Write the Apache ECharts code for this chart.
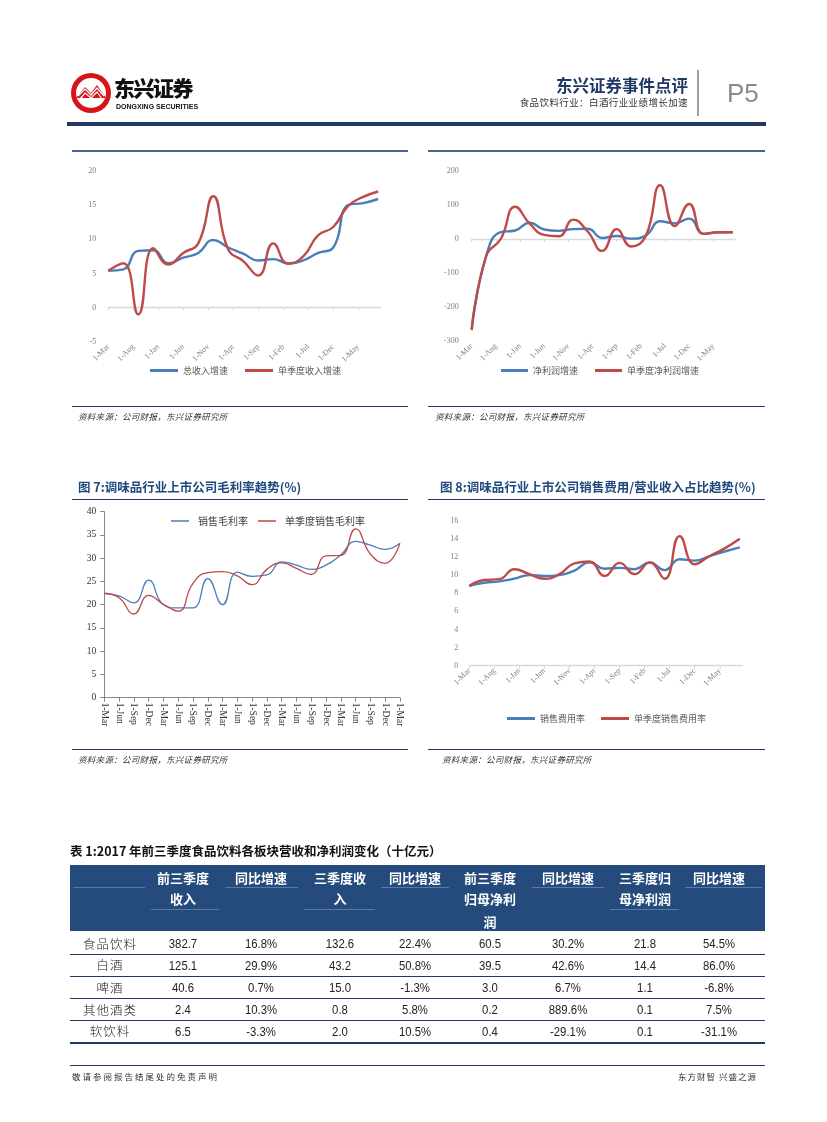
<!DOCTYPE html>
<html><head><meta charset="utf-8">
<script src="https://cdn.jsdelivr.net/npm/echarts@6/dist/echarts.min.js"></script>
<style>
html,body{margin:0;padding:0;background:#fff;}
#page{position:relative;width:827px;height:1122px;overflow:hidden;font-family:"Noto Sans CJK SC","Noto Sans",sans-serif;}
#chart{position:absolute;left:0;top:0;width:827px;height:1122px;}
.t{position:absolute;white-space:nowrap;line-height:1;}
.hl{position:absolute;}
.src{font-size:8.5px;font-style:italic;color:#333;letter-spacing:0.3px;}
.ftitle{font-size:12.5px;font-weight:bold;color:#1F497D;}
</style></head><body>
<div id="page">
<div id="chart"></div>

<!-- header -->
<svg class="hl" style="left:69px;top:71px" width="44" height="44" viewBox="0 0 44 44">
  <circle cx="22" cy="22" r="20" fill="#D7141A"/>
  <circle cx="22" cy="22" r="15" fill="#fff"/>
  <path d="M7 27 L16 16 L22 22 L28 14 L37 27 Z" fill="#D7141A"/>
  <path d="M9 25 L16 18 L22 24 L28 17 L35 25" stroke="#fff" stroke-width="1.2" fill="none"/>
  <path d="M11 28 L16 22 L22 27 L28 21 L33 28" stroke="#fff" stroke-width="1.2" fill="none"/>
</svg>
<div class="t" style="left:114px;top:77px;font-size:21px;font-weight:900;letter-spacing:-1.5px;color:#111;">东兴证券</div>
<div class="t" style="left:116px;top:103px;font-size:7px;font-weight:bold;font-family:'Liberation Sans Narrow','Liberation Sans',sans-serif;color:#111;">DONGXING SECURITIES</div>
<div class="t" style="right:139px;top:77px;font-size:16.5px;font-weight:bold;color:#1F3864;">东兴证券事件点评</div>
<div class="t" style="right:139px;top:98px;font-size:9.5px;color:#333;letter-spacing:0.4px;">食品饮料行业：白酒行业业绩增长加速</div>
<div class="hl" style="left:697px;top:70px;width:1.5px;height:46px;background:#a0a0a0;"></div>
<div class="t" style="left:727px;top:80px;font-size:26px;color:#8a8a8a;font-family:'Liberation Sans Narrow','Liberation Sans',sans-serif;">P5</div>
<div class="hl" style="left:67px;top:122px;width:699px;height:4px;background:#1F3864;"></div>

<!-- top charts frame -->
<div class="hl" style="left:72px;top:149.5px;width:336px;height:2px;background:#44658f;"></div>
<div class="hl" style="left:428px;top:149.5px;width:337px;height:2px;background:#44658f;"></div>
<div class="hl" style="left:72px;top:405.5px;width:336px;height:1.5px;background:#1F3864;"></div>
<div class="hl" style="left:428px;top:405.5px;width:337px;height:1.5px;background:#1F3864;"></div>
<div class="t src" style="left:78px;top:412px;">资料来源：公司财报，东兴证券研究所</div>
<div class="t src" style="left:435px;top:412px;">资料来源：公司财报，东兴证券研究所</div>

<!-- middle charts frame -->
<div class="t ftitle" style="left:78px;top:481px;">图 7:调味品行业上市公司毛利率趋势(%)</div>
<div class="t ftitle" style="left:440px;top:481px;">图 8:调味品行业上市公司销售费用/营业收入占比趋势(%)</div>
<div class="hl" style="left:72px;top:498.5px;width:336px;height:1.5px;background:#1F3864;"></div>
<div class="hl" style="left:428px;top:498.5px;width:337px;height:1.5px;background:#1F3864;"></div>
<div class="hl" style="left:72px;top:748.5px;width:336px;height:1.5px;background:#1F3864;"></div>
<div class="hl" style="left:428px;top:748.5px;width:337px;height:1.5px;background:#1F3864;"></div>
<div class="t src" style="left:78px;top:755px;">资料来源：公司财报，东兴证券研究所</div>
<div class="t src" style="left:442px;top:755px;">资料来源：公司财报，东兴证券研究所</div>

<!-- table -->
<div class="t" style="left:70px;top:845px;font-size:12.5px;font-weight:bold;color:#111;">表 1:2017 年前三季度食品饮料各板块营收和净利润变化（十亿元）</div>
<div id="table"></div>

<!-- footer -->
<div class="hl" style="left:70px;top:1065px;width:695px;height:1px;background:#1F3864;"></div>
<div class="t" style="left:72px;top:1072px;font-size:8.5px;color:#333;letter-spacing:2px;">敬请参阅报告结尾处的免责声明</div>
<div class="t" style="right:70px;top:1072px;font-size:8.5px;color:#333;letter-spacing:1px;">东方财智 兴盛之源</div>
</div>

<script>
// ---------- data ----------
const monthTickLabels = ['1-Mar','1-Aug','1-Jan','1-Jun','1-Nov','1-Apr','1-Sep','1-Feb','1-Jul','1-Dec','1-May'];
const quarterMonths = [0,3,6,9,12,15,18,21,24,27,30,33,36,39,42,45,48,51,54];

const totalRevGrowth   = [5.4,5.6,8.3,8.4,6.5,7.3,8.0,9.9,8.8,7.9,6.9,7.1,6.5,6.9,8.0,8.8,15.0,15.3,15.9];
const quarterRevGrowth = [5.4,6.5,-1.0,8.7,6.3,8.0,9.4,16.3,8.5,6.8,4.7,9.4,6.4,7.5,10.6,11.8,14.9,16.2,17.0];

const netProfitGrowth     = [-265,-50,20,25,48,28,24,29,30,3,9,1,10,52,46,60,15,20,20];
const quarterProfitGrowth = [-268,-50,0,95,45,12,8,57,22,-35,29,-22,8,158,38,103,15,20,20];

const marginCategories = ['1-Mar','1-Jun','1-Sep','1-Dec','1-Mar','1-Jun','1-Sep','1-Dec','1-Mar','1-Jun','1-Sep','1-Dec','1-Mar','1-Jun','1-Sep','1-Dec','1-Mar','1-Jun','1-Sep','1-Dec','1-Mar'];
const grossMargin        = [22.4,21.9,20.4,25.3,20.0,19.3,19.3,25.6,20.0,27.0,26.1,26.4,29.2,28.5,27.6,28.5,30.7,33.6,32.8,31.9,33.2];
const quarterGrossMargin = [22.5,21.5,18.0,22.0,20.1,18.6,24.6,26.9,27.1,26.2,24.3,27.6,29.0,27.8,26.5,30.5,30.6,36.3,30.9,28.9,33.2];

const sellingExpenseRatio   = [8.8,9.15,9.3,9.6,10.0,9.9,10.0,10.5,11.4,10.7,10.8,10.65,11.4,10.55,11.75,11.6,12.1,12.6,13.05];
const quarterSellingExpense = [8.8,9.45,9.55,10.65,10.1,9.6,10.1,11.3,11.5,9.9,11.35,10.1,11.4,9.6,14.3,11.2,12.1,12.95,14.0];

// table
const tableHeaders = [[],['前三季度','收入'],['同比增速'],['三季度收','入'],['同比增速'],['前三季度','归母净利','润'],['同比增速'],['三季度归','母净利润'],['同比增速']];
const rowNames      = ['食品饮料','白酒','啤酒','其他酒类','软饮料'];
const ytdRevenue    = ['382.7','125.1','40.6','2.4','6.5'];
const ytdRevenueYoY = ['16.8%','29.9%','0.7%','10.3%','-3.3%'];
const q3Revenue     = ['132.6','43.2','15.0','0.8','2.0'];
const q3RevenueYoY  = ['22.4%','50.8%','-1.3%','5.8%','10.5%'];
const ytdProfit     = ['60.5','39.5','3.0','0.2','0.4'];
const ytdProfitYoY  = ['30.2%','42.6%','6.7%','889.6%','-29.1%'];
const q3Profit      = ['21.8','14.4','1.1','0.1','0.1'];
const q3ProfitYoY   = ['54.5%','86.0%','-6.8%','7.5%','-31.1%'];

// ---------- table rendering ----------
(function(){
  const page = document.getElementById('page');
  const colBounds = [70,148,222,301,378,452,529,607,682,765];
  const colCenters = [110,183,261,340,415,490,568,645,719];
  const headTop = 865, headH = 66;
  const add = (html) => { const d = document.createElement('div'); d.innerHTML = html; page.appendChild(d.firstChild); };
  add(`<div class="hl" style="left:70px;top:${headTop}px;width:695px;height:${headH}px;background:#244B7B;"></div>`);
  const faint = (x1,x2,y) => add(`<div class="hl" style="left:${x1+3}px;top:${y}px;width:${x2-x1-6}px;height:1px;background:#5a7aa3;"></div>`);
  [0,2,4,6,8].forEach(c => faint(colBounds[c], colBounds[c+1], 887));
  [1,3,7].forEach(c => faint(colBounds[c], colBounds[c+1], 909));
  const headRowCenters = [877, 898.5, 921.5];
  tableHeaders.forEach((lines, c) => {
    lines.forEach((txt, r) => {
      add(`<div class="t" style="left:${colCenters[c]-40}px;width:80px;text-align:center;top:${headRowCenters[r]-6.5}px;font-size:13px;font-weight:bold;color:#fff;">${txt}</div>`);
    });
  });
  const cols = [ytdRevenue, ytdRevenueYoY, q3Revenue, q3RevenueYoY, ytdProfit, ytdProfitYoY, q3Profit, q3ProfitYoY];
  const rowCenters = [944, 965.5, 988, 1010, 1031.5];
  const sepY = [953.5, 976, 998, 1020];
  rowNames.forEach((name, r) => {
    add(`<div class="t" style="left:${colCenters[0]-40}px;width:80px;text-align:center;top:${rowCenters[r]-6.5}px;font-size:12.5px;font-weight:300;letter-spacing:1px;color:#222;">${name}</div>`);
    cols.forEach((col, c) => {
      add(`<div class="t" style="left:${colCenters[c+1]-40}px;width:80px;text-align:center;top:${rowCenters[r]-7}px;font-size:13.5px;font-family:'Liberation Sans',sans-serif;color:#222;transform:scaleX(0.84);transform-origin:50% 50%;">${col[r]}</div>`);
    });
  });
  sepY.forEach(y => add(`<div class="hl" style="left:70px;top:${y}px;width:695px;height:1px;background:#1F3864;"></div>`));
  add(`<div class="hl" style="left:70px;top:1041.5px;width:695px;height:2px;background:#1F3864;"></div>`);
})();

// ---------- charts ----------
const BLUE = '#4A7EBB', RED = '#BE4B48';
const serif = '"Liberation Serif","DejaVu Serif",serif';
const cjk = '"Noto Sans CJK SC",sans-serif';
const pairs = (arr) => arr.map((v, i) => [quarterMonths[i], v]);

function monthAxis(gridIndex){
  return {
    type: 'value', gridIndex, min: 0, max: 54.5, interval: 5,
    axisLine: { onZero: true, lineStyle: { color: '#d9d9d9', width: 1.3 } },
    axisTick: { show: true, length: 3, lineStyle: { color: '#d9d9d9' } },
    splitLine: { show: false },
    axisLabel: {
      rotate: 45, margin: 4, fontFamily: serif, fontSize: 8, color: '#7f7f7f',
      showMaxLabel: false,
      formatter: v => (Number.isInteger(v / 5) && monthTickLabels[v / 5]) ? monthTickLabels[v / 5] : ''
    }
  };
}
function plainY(gridIndex, min, max, interval, margin){
  return {
    type: 'value', gridIndex, min, max, interval,
    axisLine: { show: false }, axisTick: { show: false }, splitLine: { show: false },
    axisLabel: { fontFamily: serif, fontSize: 8, color: '#7f7f7f', margin }
  };
}
function lineSeries(name, data, color, xi, width){
  return {
    type: 'line', name, data, xAxisIndex: xi, yAxisIndex: xi,
    smooth: 0.5, showSymbol: false, symbol: 'none',
    lineStyle: { color, width }, itemStyle: { color },
    emphasis: { disabled: true }
  };
}
const legendText = { fontFamily: cjk, fontSize: 9, color: '#595959' };

const option = {
  animation: false,
  grid: [
    { left: 108.3, top: 171, width: 272.4, height: 170.7 },
    { left: 471.7, top: 171, width: 263.4, height: 170 },
    { left: 104.3, top: 511.7, width: 295.6, height: 186 },
    { left: 469.3, top: 520.7, width: 273, height: 145 }
  ],
  xAxis: [
    monthAxis(0),
    monthAxis(1),
    {
      type: 'category', gridIndex: 2, data: marginCategories, boundaryGap: false,
      axisLine: { lineStyle: { color: '#868686', width: 1 } },
      axisTick: { show: true, interval: 0, length: 4, lineStyle: { color: '#868686' } },
      axisLabel: { rotate: -90, interval: 0, margin: 5, fontFamily: serif, fontSize: 9.5, color: '#333' },
      splitLine: { show: false }
    },
    monthAxis(3)
  ],
  yAxis: [
    plainY(0, -5, 20, 5, 12),
    plainY(1, -300, 200, 100, 13),
    {
      type: 'value', gridIndex: 2, min: 0, max: 40, interval: 5,
      axisLine: { show: true, lineStyle: { color: '#868686', width: 1 } },
      axisTick: { show: true, length: 4, lineStyle: { color: '#868686' } },
      splitLine: { show: false },
      axisLabel: { fontFamily: serif, fontSize: 9.5, color: '#333', margin: 8 }
    },
    plainY(3, 0, 16, 2, 11)
  ],
  legend: [
    { data: ['总收入增速', '单季度收入增速'], left: 145, top: 361, itemWidth: 28, itemHeight: 3, itemGap: 17, icon: 'rect', textStyle: legendText, selectedMode: false },
    { data: ['净利润增速', '单季度净利润增速'], left: 496, top: 361, itemWidth: 27, itemHeight: 3, itemGap: 17, icon: 'rect', textStyle: legendText, selectedMode: false },
    { data: ['销售毛利率', '单季度销售毛利率'], left: 166, top: 511, itemWidth: 18, itemHeight: 1.5, itemGap: 10, icon: 'rect', textStyle: { fontFamily: cjk, fontSize: 10, color: '#404040', padding: [0, 0, 0, 4] }, selectedMode: false },
    { data: ['销售费用率', '单季度销售费用率'], left: 502, top: 709, itemWidth: 28, itemHeight: 3, itemGap: 16, icon: 'rect', textStyle: legendText, selectedMode: false }
  ],
  series: [
    lineSeries('总收入增速', pairs(totalRevGrowth), BLUE, 0, 2.4),
    lineSeries('单季度收入增速', pairs(quarterRevGrowth), RED, 0, 2.4),
    lineSeries('净利润增速', pairs(netProfitGrowth), BLUE, 1, 2.4),
    lineSeries('单季度净利润增速', pairs(quarterProfitGrowth), RED, 1, 2.4),
    lineSeries('销售毛利率', grossMargin, BLUE, 2, 1.3),
    lineSeries('单季度销售毛利率', quarterGrossMargin, RED, 2, 1.3),
    lineSeries('销售费用率', pairs(sellingExpenseRatio), BLUE, 3, 2.4),
    lineSeries('单季度销售费用率', pairs(quarterSellingExpense), RED, 3, 2.4)
  ]
};
const chart = echarts.init(document.getElementById('chart'));
chart.setOption(option);
</script>
</body></html>
